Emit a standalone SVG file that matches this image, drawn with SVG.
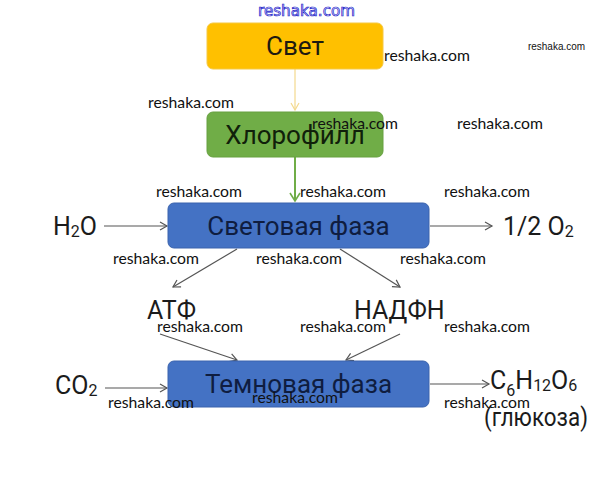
<svg xmlns="http://www.w3.org/2000/svg" width="611" height="477" viewBox="0 0 611 477">
<style>
.lbl{font-family:Roboto,"Liberation Sans",sans-serif;font-size:25px;fill:#1b1b1b}
.box{font-family:Roboto,"Liberation Sans",sans-serif;font-size:26px;text-anchor:middle}
.sub{font-size:16px}
.wm{font-family:Lato,"Liberation Sans",sans-serif;font-size:15px;fill:#111}
.ln{fill:none;stroke:#555;stroke-width:1.2}
</style>
<defs>
<marker id="ag" markerWidth="10" markerHeight="10" refX="8" refY="5" orient="auto" markerUnits="userSpaceOnUse"><path d="M1,1 L8,5 L1,9" fill="none" stroke="#555" stroke-width="1.2"/></marker>
<marker id="ay" markerWidth="10" markerHeight="10" refX="8" refY="5" orient="auto" markerUnits="userSpaceOnUse"><path d="M1,1 L8,5 L1,9" fill="none" stroke="#f3d98e" stroke-width="1.2"/></marker>
<marker id="agr" markerWidth="12" markerHeight="12" refX="9" refY="6" orient="auto" markerUnits="userSpaceOnUse"><path d="M1,1 L9,6 L1,11" fill="none" stroke="#70ad47" stroke-width="1.6"/></marker>
</defs>
<rect width="611" height="477" fill="#fff"/>

<g id="connectors">
<line x1="295" y1="69" x2="295" y2="110" stroke="#f3d98e" stroke-width="1.2" marker-end="url(#ay)"/>
<line x1="295" y1="157" x2="295" y2="201" stroke="#70ad47" stroke-width="2" marker-end="url(#agr)"/>
<line class="ln" x1="104" y1="226" x2="167" y2="226" marker-end="url(#ag)"/>
<line class="ln" x1="430" y1="226" x2="492" y2="226" marker-end="url(#ag)"/>
<line class="ln" x1="237" y1="249" x2="173" y2="287" marker-end="url(#ag)"/>
<line class="ln" x1="340" y1="249" x2="400" y2="287" marker-end="url(#ag)"/>
<line class="ln" x1="160" y1="334" x2="237" y2="360" marker-end="url(#ag)"/>
<line class="ln" x1="400" y1="334" x2="346" y2="360" marker-end="url(#ag)"/>
<line class="ln" x1="105" y1="388" x2="167" y2="388" marker-end="url(#ag)"/>
<line class="ln" x1="430" y1="384" x2="489" y2="384" marker-end="url(#ag)"/>
</g>

<g id="svet">
<rect x="207" y="23" width="176" height="46" rx="6" fill="#ffc000" stroke="#f5c842" stroke-width="1"/>
<text class="box" x="295" y="55" fill="#1e1a10">Свет</text>
</g>
<g id="chlorophyll">
<rect x="207" y="112" width="176" height="45" rx="6" fill="#70ad47" stroke="#66a040" stroke-width="1"/>
<text class="box" x="295" y="144" fill="#10200a">Хлорофилл</text>
</g>
<g id="light-phase">
<rect x="168" y="203" width="261" height="45" rx="6" fill="#4472c4" stroke="#3a63ad" stroke-width="1"/>
<text class="box" x="298.5" y="235" fill="#0f1d40">Световая фаза</text>
</g>
<g id="dark-phase">
<rect x="168" y="361" width="261" height="46" rx="6" fill="#4472c4" stroke="#3a63ad" stroke-width="1"/>
<text class="box" x="298.5" y="393" fill="#0f1d40">Темновая фаза</text>
</g>

<g id="h2o"><text class="lbl" x="53" y="235">H<tspan class="sub" dy="2">2</tspan><tspan dy="-2">O</tspan></text></g>
<g id="o2"><text class="lbl" x="503" y="235">1/2 O<tspan class="sub" dy="2">2</tspan></text></g>
<g id="atp"><text class="lbl" x="147" y="319">АТФ</text></g>
<g id="nadph"><text class="lbl" x="354" y="319">НАДФН</text></g>
<g id="co2"><text class="lbl" x="55" y="394">CO<tspan class="sub" dy="2">2</tspan></text></g>
<g id="glucose">
<text class="lbl" x="490" y="389">C<tspan class="sub" dy="7">6</tspan><tspan dy="-7">H</tspan><tspan class="sub" dy="2">12</tspan><tspan dy="-2">O</tspan><tspan class="sub" dy="2">6</tspan></text>
<text class="lbl" x="484" y="426" textLength="104" lengthAdjust="spacingAndGlyphs">(глюкоза)</text>
</g>

<g id="watermarks">
<text x="258" y="16" font-family="'DejaVu Sans',sans-serif" font-size="15" fill="#dfe0ff" stroke="#2323c8" stroke-width="0.7" textLength="97" lengthAdjust="spacingAndGlyphs">reshaka.com</text>
<text class="wm" x="384" y="61" textLength="86" lengthAdjust="spacingAndGlyphs">reshaka.com</text>
<text x="528" y="50" font-family="'Liberation Sans',sans-serif" font-size="10" fill="#111" textLength="57" lengthAdjust="spacingAndGlyphs">reshaka.com</text>
<text class="wm" x="148" y="108" textLength="86" lengthAdjust="spacingAndGlyphs">reshaka.com</text>
<text class="wm" x="312" y="129" textLength="86" lengthAdjust="spacingAndGlyphs">reshaka.com</text>
<text class="wm" x="457" y="129" textLength="86" lengthAdjust="spacingAndGlyphs">reshaka.com</text>
<text class="wm" x="156" y="197" textLength="86" lengthAdjust="spacingAndGlyphs">reshaka.com</text>
<text class="wm" x="300" y="197" textLength="86" lengthAdjust="spacingAndGlyphs">reshaka.com</text>
<text class="wm" x="444" y="197" textLength="86" lengthAdjust="spacingAndGlyphs">reshaka.com</text>
<text class="wm" x="113" y="264" textLength="86" lengthAdjust="spacingAndGlyphs">reshaka.com</text>
<text class="wm" x="256" y="264" textLength="86" lengthAdjust="spacingAndGlyphs">reshaka.com</text>
<text class="wm" x="400" y="264" textLength="86" lengthAdjust="spacingAndGlyphs">reshaka.com</text>
<text class="wm" x="157" y="332" textLength="86" lengthAdjust="spacingAndGlyphs">reshaka.com</text>
<text class="wm" x="300" y="332" textLength="86" lengthAdjust="spacingAndGlyphs">reshaka.com</text>
<text class="wm" x="444" y="332" textLength="86" lengthAdjust="spacingAndGlyphs">reshaka.com</text>
<text class="wm" x="108" y="408" textLength="86" lengthAdjust="spacingAndGlyphs">reshaka.com</text>
<text class="wm" x="252" y="403" textLength="86" lengthAdjust="spacingAndGlyphs">reshaka.com</text>
<text class="wm" x="444" y="408" textLength="86" lengthAdjust="spacingAndGlyphs">reshaka.com</text>
</g>
</svg>
